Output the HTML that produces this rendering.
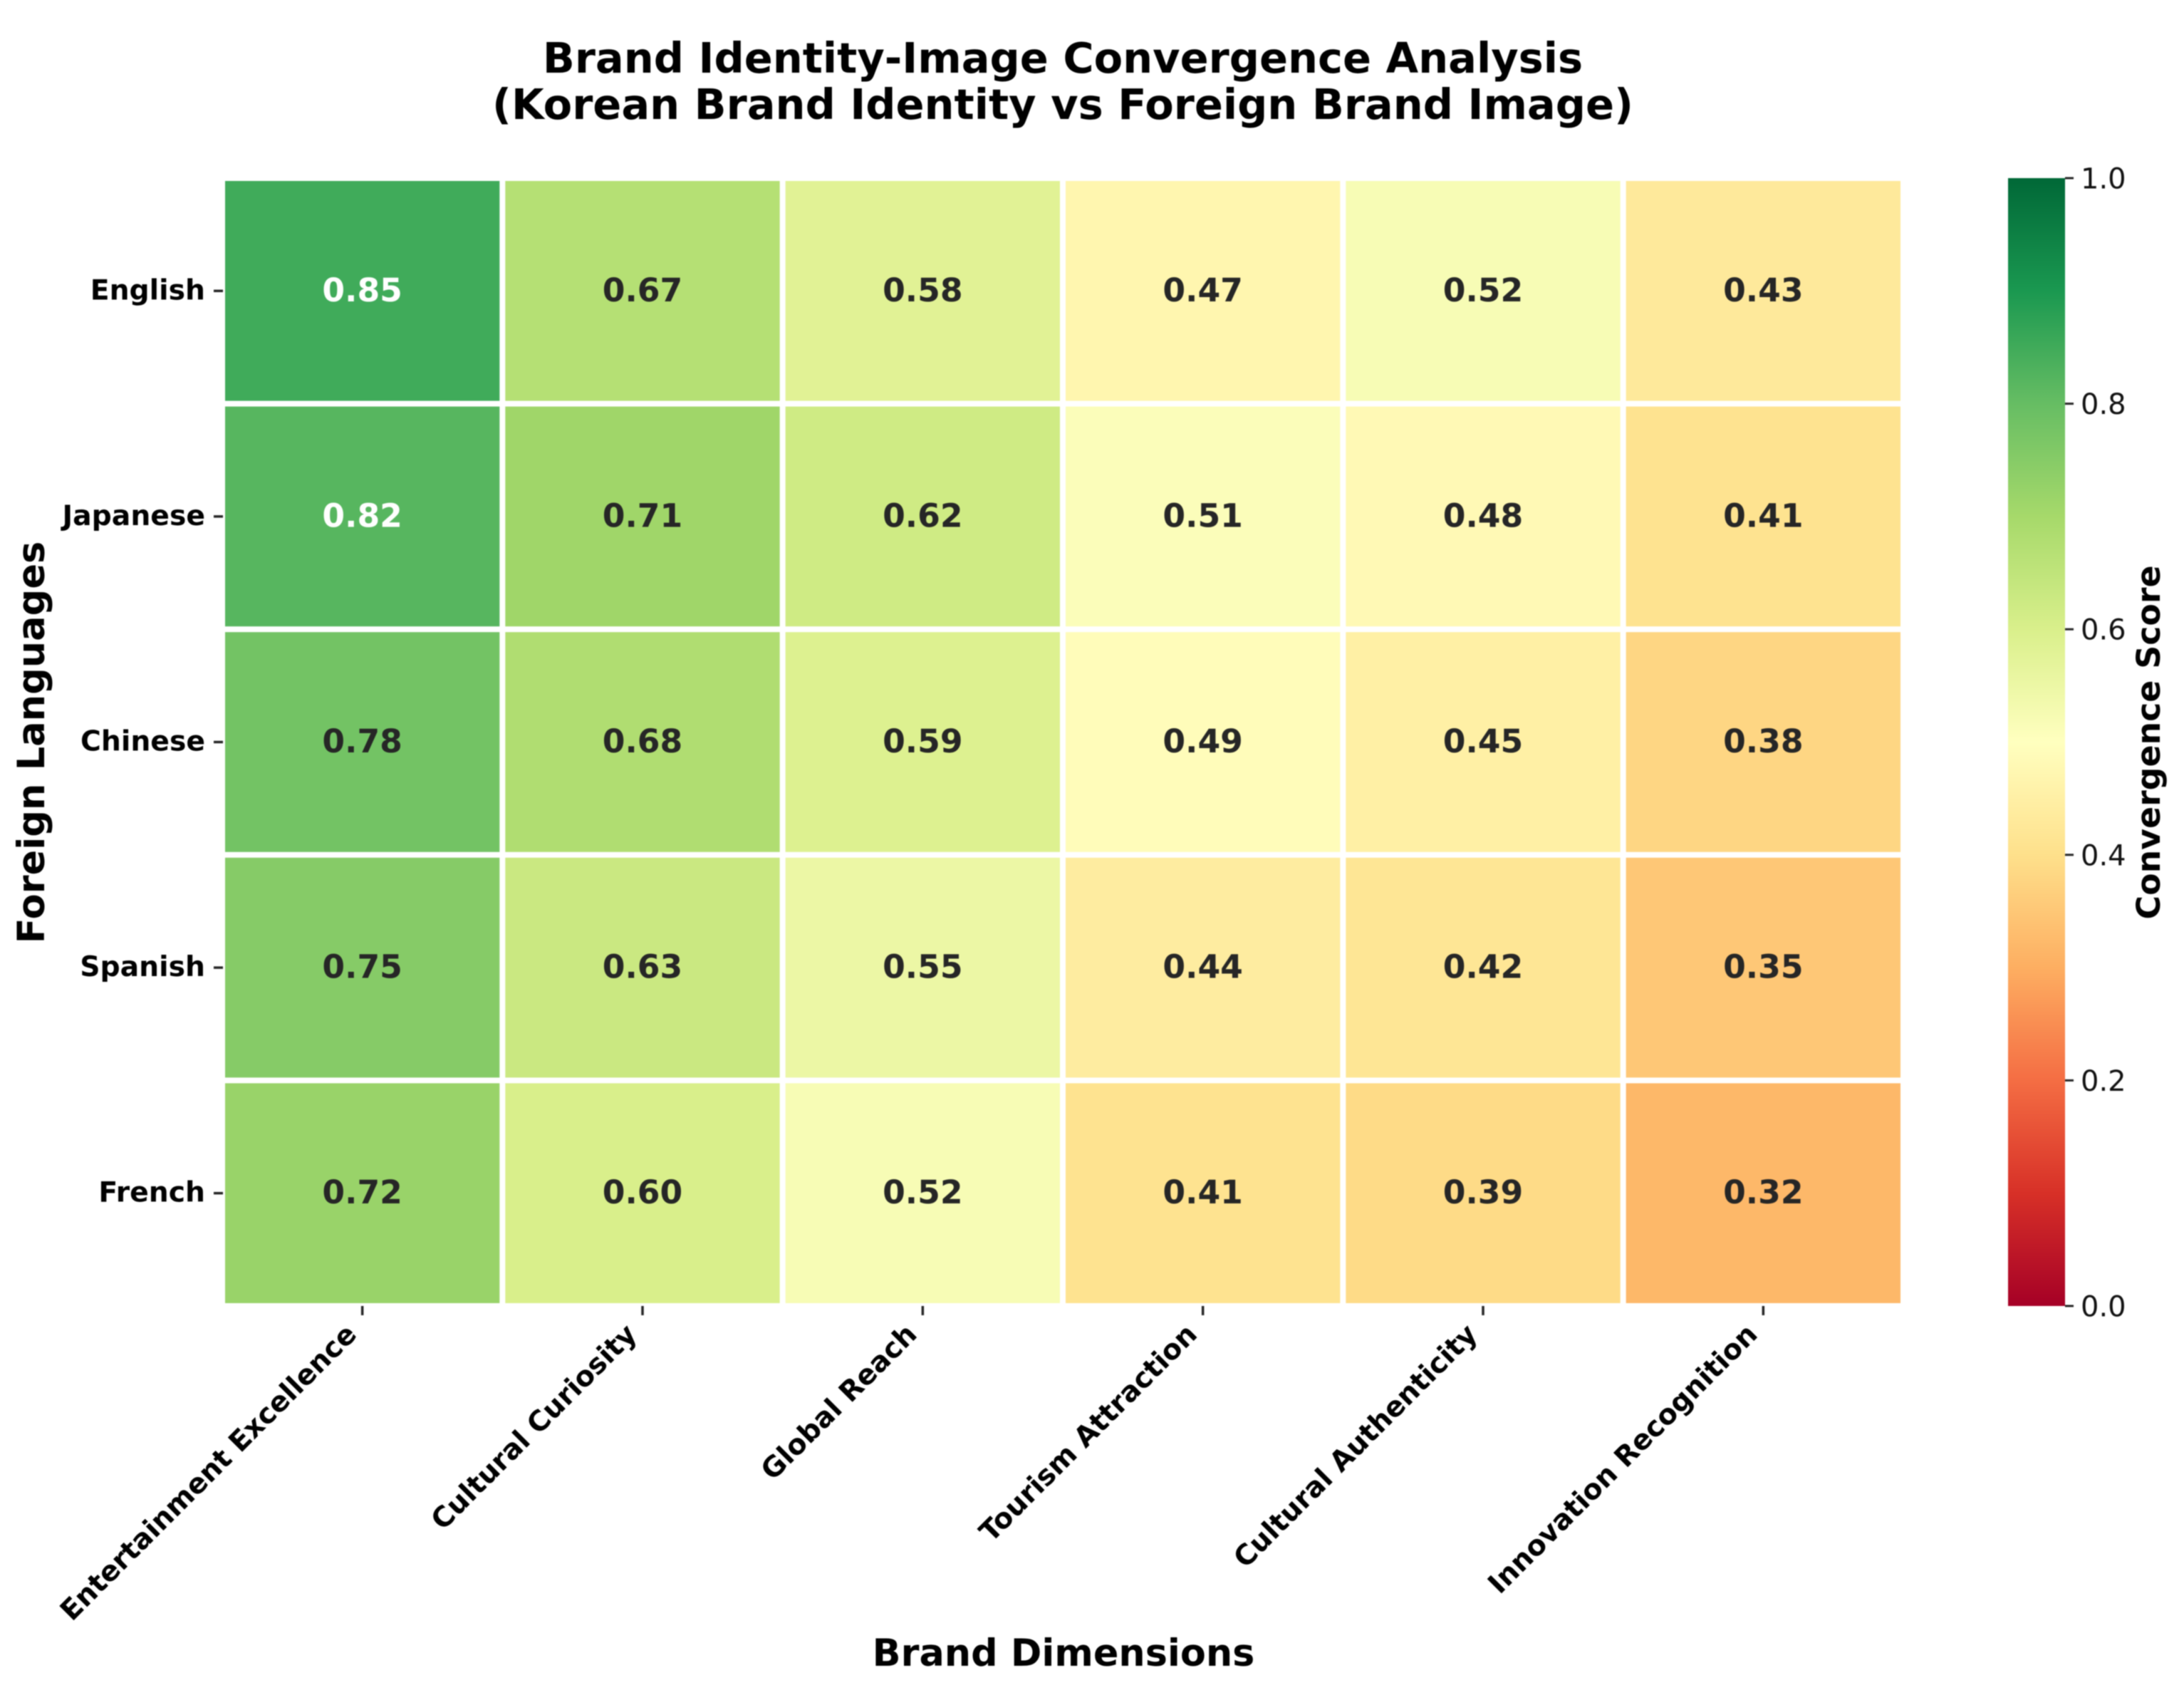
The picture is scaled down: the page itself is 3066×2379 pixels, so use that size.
<!DOCTYPE html>
<html lang="en">
<head>
<meta charset="utf-8">
<title>Brand Identity-Image Convergence Analysis</title>
<style>
html,body{margin:0;padding:0;background:#fff;}
svg{display:block;filter:blur(0.7px);}
text{font-family:"DejaVu Sans","Liberation Sans",sans-serif;}
</style>
</head>
<body>
<svg id="chart" xmlns="http://www.w3.org/2000/svg" width="3066" height="2379" viewBox="0 0 3066 2379">
  <rect x="0" y="0" width="3066" height="2379" fill="#ffffff"/>
  <defs>
    <linearGradient id="cbarGradient" x1="0" y1="1" x2="0" y2="0"></linearGradient>
  </defs>
  <text x="1492" y="102" text-anchor="middle" font-size="59" font-weight="700" fill="#000">Brand Identity-Image Convergence Analysis</text>
  <text x="1492" y="167" text-anchor="middle" font-size="59" font-weight="700" fill="#000">(Korean Brand Identity vs Foreign Brand Image)</text>
  <g id="cells"></g>
  <g id="yAxis"></g>
  <g id="xAxis"></g>
  <text transform="translate(62,1042) rotate(-90)" text-anchor="middle" font-size="52.6" font-weight="700" fill="#000">Foreign Languages</text>
  <text x="1493" y="2338" text-anchor="middle" font-size="52.4" font-weight="700" fill="#000">Brand Dimensions</text>
  <rect x="2819" y="250" width="80" height="1583" fill="url(#cbarGradient)"/>
  <g id="cbarAxis"></g>
  <text transform="translate(3032,1042) rotate(-90)" text-anchor="middle" font-size="45.8" font-weight="700" fill="#000">Convergence Score</text>
</svg>
<script>
const languages = ["English", "Japanese", "Chinese", "Spanish", "French"];
const dimensions = ["Entertainment Excellence", "Cultural Curiosity", "Global Reach", "Tourism Attraction", "Cultural Authenticity", "Innovation Recognition"];
const englishValues = [0.85, 0.67, 0.58, 0.47, 0.52, 0.43];
const japaneseValues = [0.82, 0.71, 0.62, 0.51, 0.48, 0.41];
const chineseValues = [0.78, 0.68, 0.59, 0.49, 0.45, 0.38];
const spanishValues = [0.75, 0.63, 0.55, 0.44, 0.42, 0.35];
const frenchValues = [0.72, 0.60, 0.52, 0.41, 0.39, 0.32];
const colorbarTicks = [0.0, 0.2, 0.4, 0.6, 0.8, 1.0];
const colormapHex = ["#a50026", "#d73027", "#f46d43", "#fdae61", "#fee08b", "#ffffbf", "#d9ef8b", "#a6d96a", "#66bd63", "#1a9850", "#006837"];

const matrix = [englishValues, japaneseValues, chineseValues, spanishValues, frenchValues];
const NS = "http://www.w3.org/2000/svg";

const plotLeft = 312, plotRight = 2672, plotTop = 250, plotBottom = 1833;
const cellW = (plotRight - plotLeft) / dimensions.length;
const cellH = (plotBottom - plotTop) / languages.length;
const gridGap = 8;

function xBand(i) { return plotLeft + i * cellW; }
function yBand(j) { return plotTop + j * cellH; }
function cbarY(v) { return plotBottom - (plotBottom - plotTop) * v; }

function hexToRgb(h) {
  return [parseInt(h.slice(1, 3), 16), parseInt(h.slice(3, 5), 16), parseInt(h.slice(5, 7), 16)];
}
function colormap(v) {
  const t = Math.max(0, Math.min(1, v)) * (colormapHex.length - 1);
  const k = Math.min(Math.floor(t), colormapHex.length - 2);
  const a = hexToRgb(colormapHex[k]), b = hexToRgb(colormapHex[k + 1]);
  const f = t - k;
  return [0, 1, 2].map(c => Math.round(a[c] + (b[c] - a[c]) * f));
}
function luminance(rgb) {
  const lin = rgb.map(c => {
    const s = c / 255;
    return s <= 0.03928 ? s / 12.92 : Math.pow((s + 0.055) / 1.055, 2.4);
  });
  return 0.2126 * lin[0] + 0.7152 * lin[1] + 0.0722 * lin[2];
}
function make(tag, attrs, parent, content) {
  const el = document.createElementNS(NS, tag);
  for (const k in attrs) el.setAttribute(k, attrs[k]);
  if (content !== undefined) el.textContent = content;
  parent.appendChild(el);
  return el;
}

const cellsGroup = document.getElementById("cells");
const yAxisGroup = document.getElementById("yAxis");
const xAxisGroup = document.getElementById("xAxis");
const cbarGroup = document.getElementById("cbarAxis");
const gradient = document.getElementById("cbarGradient");

colormapHex.forEach((hex, i) => {
  make("stop", { offset: i / (colormapHex.length - 1), "stop-color": hex }, gradient);
});

matrix.forEach((row, j) => {
  row.forEach((value, i) => {
    const rgb = colormap(value);
    const rect = make("rect", {
      x: xBand(i) + gridGap / 2,
      y: yBand(j) + gridGap / 2,
      width: cellW - gridGap,
      height: cellH - gridGap,
      fill: "rgb(" + rgb.join(",") + ")"
    }, cellsGroup);
    
    
    const label = make("text", {
      x: xBand(i) + cellW / 2,
      y: yBand(j) + cellH / 2 + 14.5,
      "text-anchor": "middle",
      "font-size": 45.6,
      "font-weight": 700,
      fill: luminance(rgb) < 0.408 ? "#ffffff" : "#262626"
    }, cellsGroup, value.toFixed(2));
    
    
  });
});

languages.forEach((name, j) => {
  const cy = yBand(j) + cellH / 2;
  const tick = make("line", { x1: 300, x2: 313, y1: cy, y2: cy, stroke: "#262626", "stroke-width": 3.5 }, yAxisGroup);
  
  
  const label = make("text", { x: 288, y: cy + 12, "text-anchor": "end", "font-size": 39.3, "font-weight": 700, fill: "#000" }, yAxisGroup, name);
  
  
});

dimensions.forEach((name, i) => {
  const cx = xBand(i) + cellW / 2;
  const tick = make("line", { x1: cx, x2: cx, y1: 1833, y2: 1846, stroke: "#262626", "stroke-width": 3.5 }, xAxisGroup);
  
  
  const ax = cx - 6, ay = 1875;
  const label = make("text", {
    x: ax, y: ay, "text-anchor": "end", "font-size": 39.3, "font-weight": 700, fill: "#000",
    transform: "rotate(-45 " + ax + " " + ay + ")"
  }, xAxisGroup, name);
  
  
});

colorbarTicks.forEach(v => {
  const y = cbarY(v);
  const tick = make("line", { x1: 2899, x2: 2911, y1: y, y2: y, stroke: "#262626", "stroke-width": 3 }, cbarGroup);
  
  
  const label = make("text", { x: 2921, y: y + 14.5, "font-size": 40, fill: "#111" }, cbarGroup, v.toFixed(1));
  
  
});
</script>
</body>
</html>
